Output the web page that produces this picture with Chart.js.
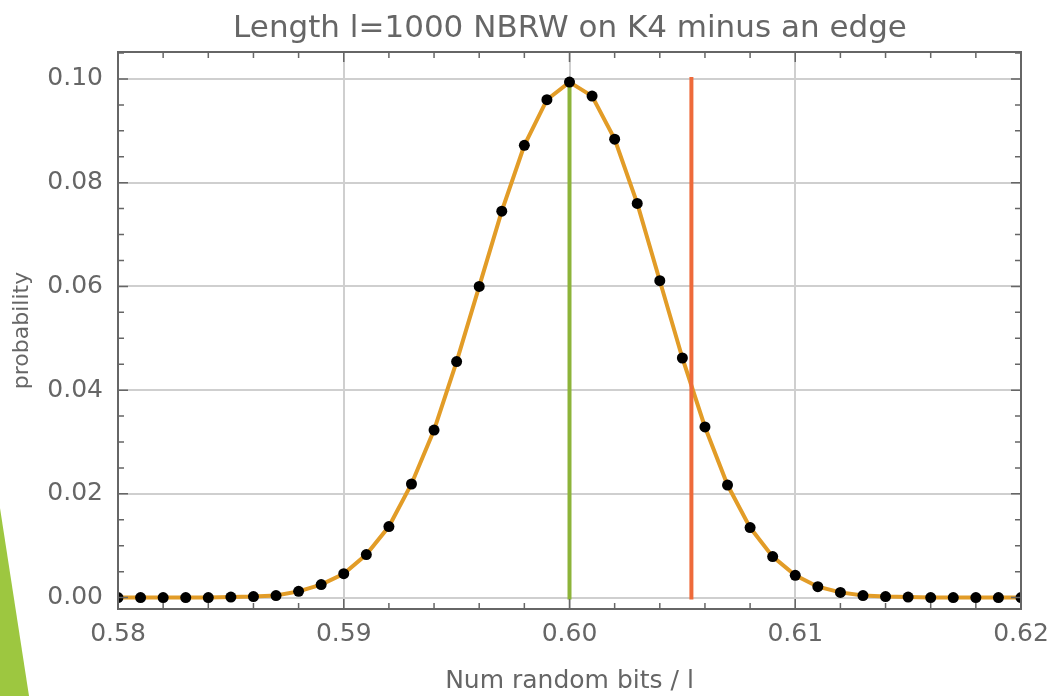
<!DOCTYPE html>
<html>
<head>
<meta charset="utf-8">
<title>NBRW on K4 minus an edge</title>
<script src="https://cdn.jsdelivr.net/npm/chart.js@4.4.1/dist/chart.umd.min.js"></script>
<style>
  html, body { margin: 0; padding: 0; background: #fff; }
  #wrap { position: relative; width: 1056px; height: 696px; }
  #tri {
    position: absolute; left: 0; top: 0; width: 1056px; height: 696px;
    background: #9dc740;
    clip-path: polygon(0 508px, 29px 696px, 0 696px);
  }
  canvas { position: absolute; left: 0; top: 0; }
  #titulo {
    position: absolute; left: 370px; width: 400px; top: 8px;
    text-align: center; white-space: nowrap;
    font-family: 'DejaVu Sans', 'Liberation Sans', sans-serif;
    font-size: 31px; line-height: 36px; color: #666666;
    display: flex; justify-content: center;
  }
</style>
</head>
<body>
<div id="wrap">
  <div id="tri"></div>
  <canvas id="grafica" width="1056" height="696"></canvas>
  <div id="titulo">Length l=1000 NBRW on K4 minus an edge</div>
</div>
<script>
// x = bits per step, y = probability
const xValues = [
  0.580, 0.581, 0.582, 0.583, 0.584, 0.585, 0.586, 0.587, 0.588, 0.589,
  0.590, 0.591, 0.592, 0.593, 0.594, 0.595, 0.596, 0.597, 0.598, 0.599,
  0.600, 0.601, 0.602, 0.603, 0.604, 0.605, 0.606, 0.607, 0.608, 0.609,
  0.610, 0.611, 0.612, 0.613, 0.614, 0.615, 0.616, 0.617, 0.618, 0.619,
  0.620
]
const probValues = [
  0.0000, 0.0000, 0.0000, 0.0000, 0.0000, 0.0001, 0.0002, 0.0004, 0.0012, 0.0025,
  0.0046, 0.0083, 0.0137, 0.0219, 0.0323, 0.0455, 0.0600, 0.0745, 0.0872, 0.0960,
  0.0994, 0.0967, 0.0884, 0.0760, 0.0611, 0.0462, 0.0329, 0.0217, 0.0135, 0.0079,
  0.0043, 0.0021, 0.0010, 0.0004, 0.0002, 0.0001, 0.0000, 0.0000, 0.0000, 0.0000,
  0.0000
]

// vertical markers
const meanValue = 0.600
const markValue = 0.6054
const markerSpan = [0, 0.10]

const xTicks = [0.58, 0.59, 0.60, 0.61, 0.62]
const yTicks = [0, 0.02, 0.04, 0.06, 0.08, 0.10]
const xMinorTicks = [
  0.582, 0.584, 0.586, 0.588, 0.592, 0.594, 0.596, 0.598,
  0.602, 0.604, 0.606, 0.608, 0.612, 0.614, 0.616, 0.618
]
const yMinorTicks = [0.005, 0.01, 0.015, 0.025, 0.03, 0.035, 0.045, 0.05, 0.055,
  0.065, 0.07, 0.075, 0.085, 0.09, 0.095, 0.105]

const gris = "#666666"
const fuente = "'DejaVu Sans', 'Liberation Sans', sans-serif"

const puntos = xValues.map((x, i) => ({ x: x, y: probValues[i] }))

// frame with inward ticks on all four sides, like the original plot
const marco = {
  id: "marco",
  afterDatasetsDraw(chart) {
    const { ctx, chartArea: a, scales } = chart
    ctx.save()
    ctx.strokeStyle = gris
    ctx.lineWidth = 2
    ctx.strokeRect(a.left, a.top, a.right - a.left, a.bottom - a.top)

    ctx.lineWidth = 1.5
    function marcas(valores, largo) {
      valores.forEach(v => {
        const px = scales.x.getPixelForValue(v)
        ctx.beginPath()
        ctx.moveTo(px, a.bottom); ctx.lineTo(px, a.bottom - largo)
        ctx.moveTo(px, a.top); ctx.lineTo(px, a.top + largo)
        ctx.stroke()
      })
    }
    function marcasY(valores, largo) {
      valores.forEach(v => {
        const py = scales.y.getPixelForValue(v)
        if (py < a.top || py > a.bottom) return
        ctx.beginPath()
        ctx.moveTo(a.left, py); ctx.lineTo(a.left + largo, py)
        ctx.moveTo(a.right, py); ctx.lineTo(a.right - largo, py)
        ctx.stroke()
      })
    }
    marcas(xTicks, 10)
    marcas(xMinorTicks, 6)
    marcasY(yTicks, 10)
    marcasY(yMinorTicks, 6)
    ctx.restore()
  }
}

const ctx = document.getElementById("grafica").getContext("2d")

new Chart(ctx, {
  type: "scatter",
  data: {
    datasets: [
      {
        label: "puntos",
        data: puntos,
        showLine: false,
        pointRadius: 5.5,
        pointBackgroundColor: "#000",
        pointBorderWidth: 0,
        clip: 0
      },
      {
        label: "media",
        data: markerSpan.map(y => ({ x: meanValue, y: y })),
        showLine: true,
        borderColor: "#8db43a",
        borderWidth: 4,
        borderCapStyle: "square",
        pointRadius: 0
      },
      {
        label: "marca",
        data: markerSpan.map(y => ({ x: markValue, y: y })),
        showLine: true,
        borderColor: "#ee6a3a",
        borderWidth: 4,
        borderCapStyle: "square",
        pointRadius: 0
      },
      {
        label: "curva",
        data: puntos,
        showLine: true,
        borderColor: "#e29c27",
        borderWidth: 4,
        pointRadius: 0,
        tension: 0,
        clip: 0
      }
    ]
  },
  options: {
    responsive: false,
    animation: false,
    layout: { padding: { top: 52, right: 35, bottom: 0, left: 0 } },
    plugins: {
      legend: { display: false },
      tooltip: { enabled: false },
      title: { display: false }
    },
    scales: {
      x: {
        type: "linear",
        min: 0.58,
        max: 0.62,
        afterBuildTicks: s => { s.ticks = xTicks.map(v => ({ value: v })) },
        afterFit: s => { s.height = 87; s.paddingRight = 0; s.paddingLeft = 0 },
        ticks: {
          callback: v => v.toFixed(2),
          color: gris,
          font: { family: fuente, size: 25 },
          padding: 10,
          maxRotation: 0
        },
        grid: { color: "#cfcfcf", lineWidth: 2, drawTicks: false },
        border: { display: false },
        title: {
          display: true,
          text: "Num random bits / l",
          color: gris,
          font: { family: fuente, size: 25 },
          padding: { top: 0, bottom: 0 }
        }
      },
      y: {
        type: "linear",
        min: -0.0022,
        max: 0.1052,
        afterBuildTicks: s => { s.ticks = yTicks.map(v => ({ value: v })) },
        afterFit: s => { s.width = 118 },
        ticks: {
          callback: v => v.toFixed(2),
          color: gris,
          font: { family: fuente, size: 25 },
          padding: 15
        },
        grid: { color: "#cfcfcf", lineWidth: 2, drawTicks: false },
        border: { display: false },
        title: {
          display: true,
          text: "probability",
          color: gris,
          font: { family: fuente, size: 22 },
          padding: { top: 9, bottom: 0 }
        }
      }
    }
  },
  plugins: [marco]
})
</script>
</body>
</html>
